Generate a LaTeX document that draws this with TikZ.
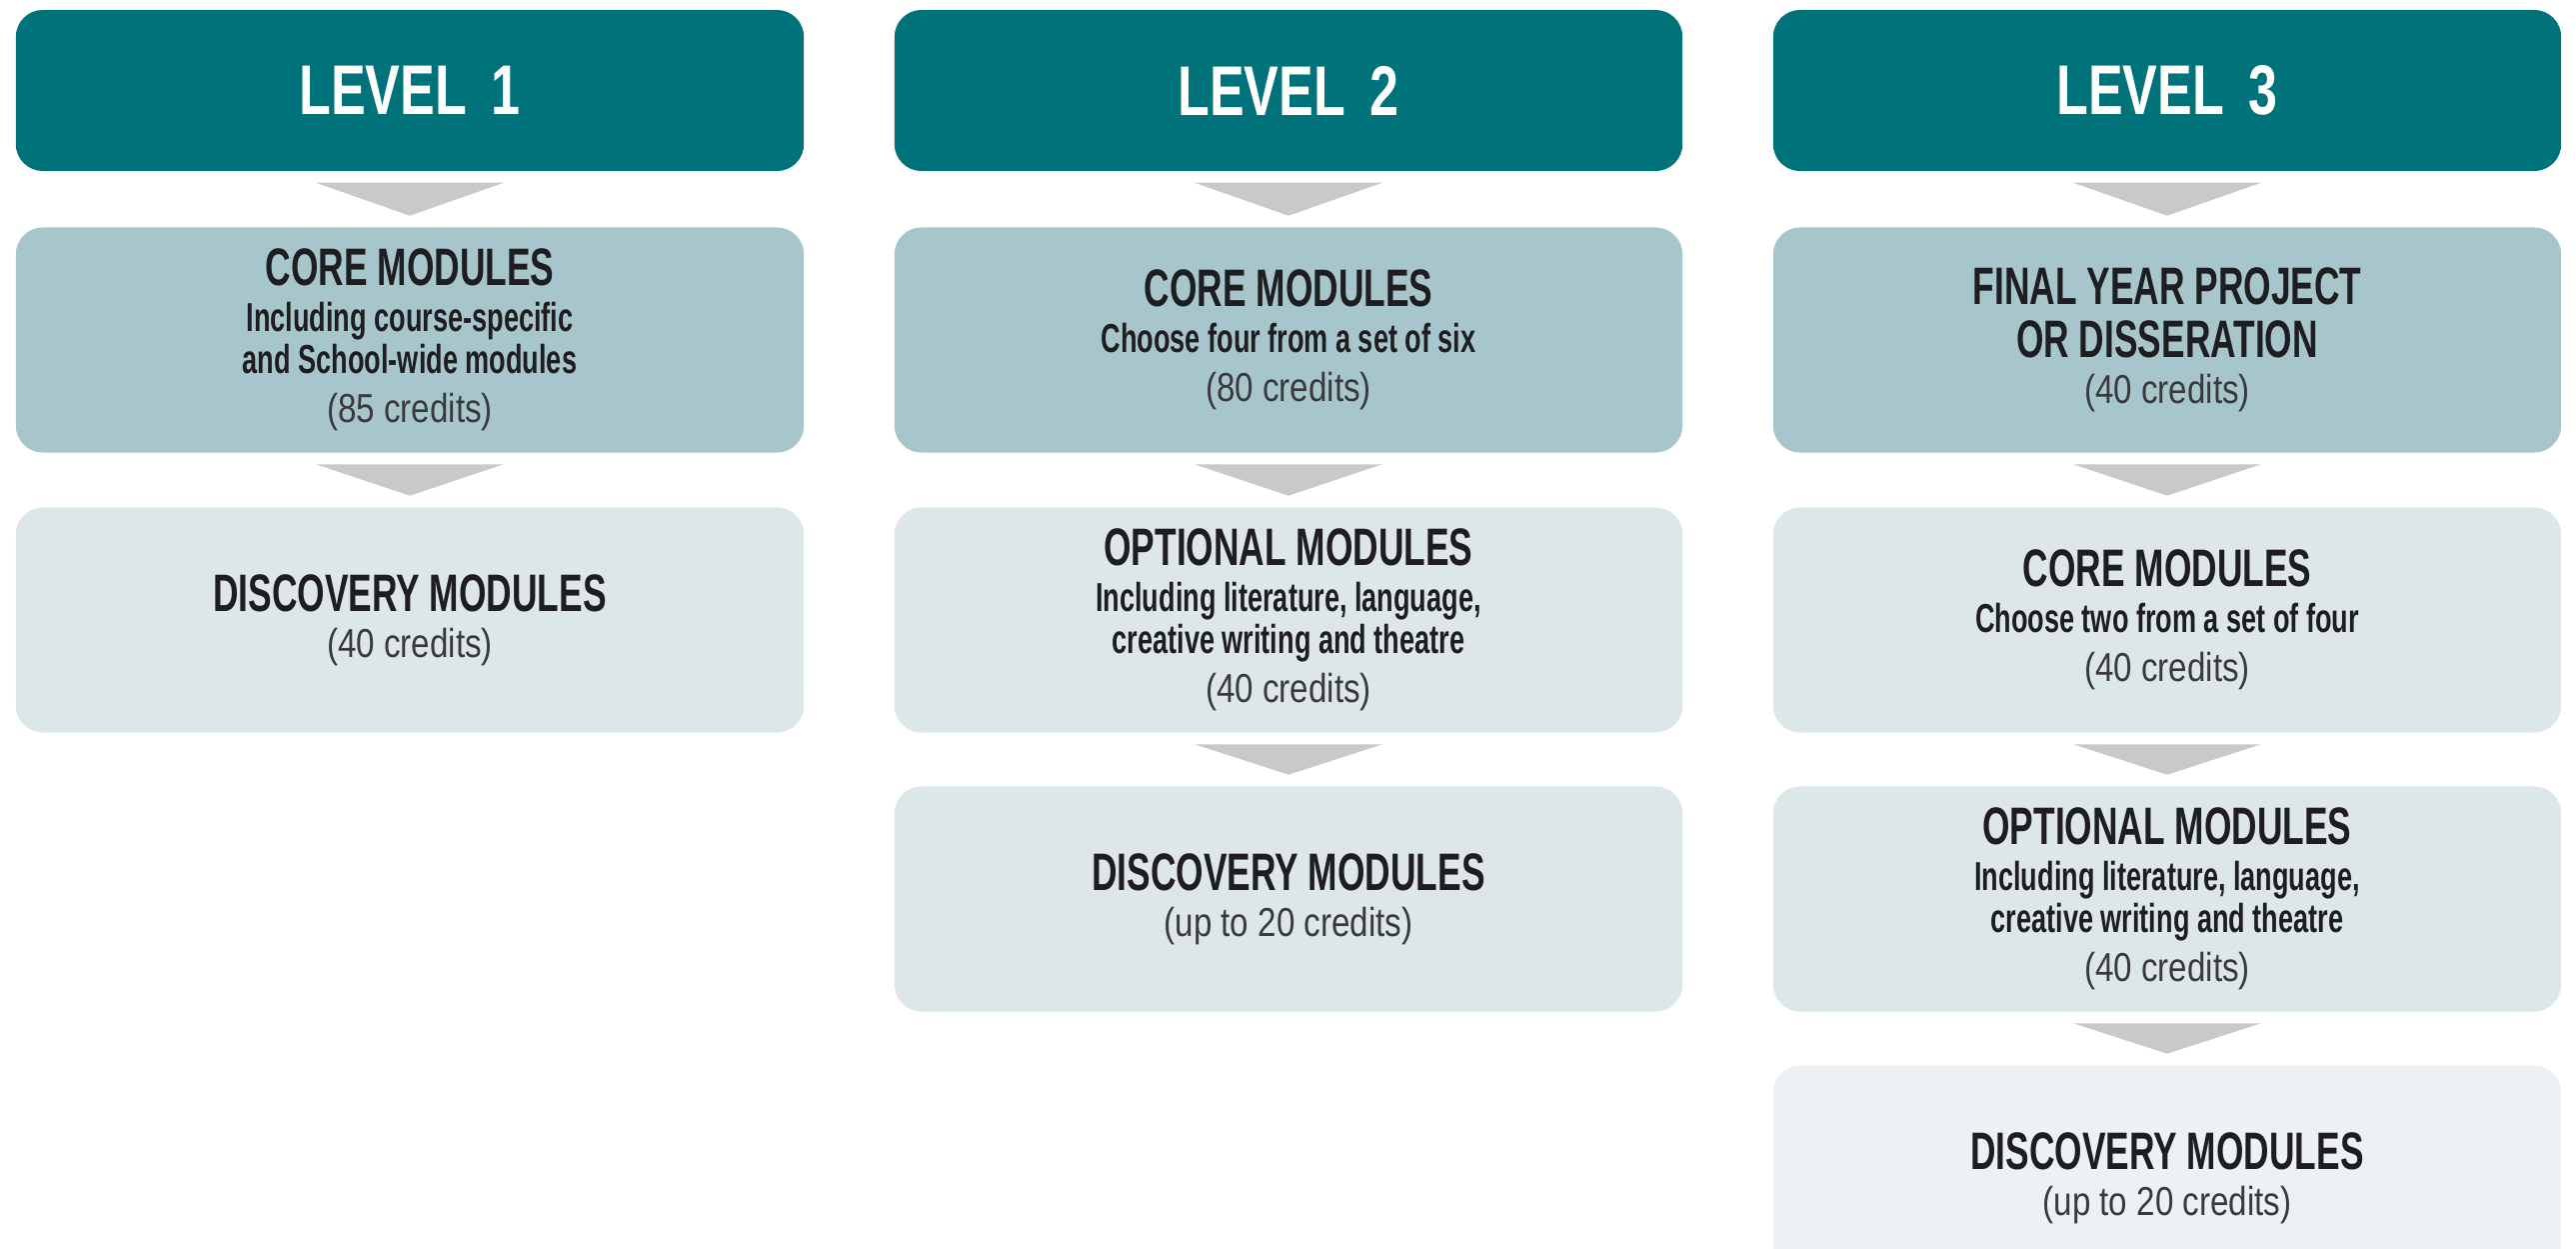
\documentclass[tikz,border=0pt]{standalone}
\usepackage{fontspec}
\setmainfont{Liberation Sans}
\newfontfamily\cond[FakeStretch=0.67]{Liberation Sans}
\newfontfamily\headfont[FakeStretch=0.74]{Liberation Sans}
\newfontfamily\credfont[FakeStretch=0.82]{Liberation Sans}

\definecolor{lvlteal}{HTML}{00737A}
\definecolor{coreblue}{HTML}{A7C6CB}
\definecolor{lightblue}{HTML}{DDE7EA}
\definecolor{palestblue}{HTML}{ECF2F3}
\definecolor{chevgray}{HTML}{C9C9CA}
\definecolor{inkdark}{HTML}{1E1E22}
\definecolor{credgray}{HTML}{3A3A3E}

% text of the boxes (set again on every line)
\newcommand{\modttl}{\cond\bfseries\fontsize{15}{16}\selectfont}
\newcommand{\modsub}{\cond\bfseries\fontsize{11.5}{13}\selectfont}
\newcommand{\modcred}{\credfont\mdseries\color{credgray}\fontsize{11.5}{14}\selectfont}

% chevron between two stacked boxes
\newcommand{\chevron}[2]{%
  \fill[chev] (#1.south) ++(-94,11) -- ++(188,0) -- ([yshift=0.11cm]#2.north) -- cycle;}

\tikzset{
  levelbox/.style={fill=lvlteal,rounded corners=0.27cm,minimum width=7.88cm,
    minimum height=1.61cm,inner sep=0pt,text=white,
    font=\headfont\bfseries\fontsize{20}{24}\selectfont},
  modbox/.style={rounded corners=0.27cm,minimum width=7.88cm,minimum height=2.25cm,
    inner sep=0pt,align=center,text=inkdark},
  chev/.style={fill=chevgray},
}

\begin{document}
\begin{tikzpicture}[x=0.01cm,y=-0.01cm]

  % page: 2577 x 1249 units, y runs downwards
  \path[use as bounding box,clip] (0,0) rectangle (2577,1249);

  % column centres and row centres
  \def\xA{410}  \def\xB{1289}  \def\xC{2168}
  \def\yHead{90.5}
  \def\yRa{340} \def\yRb{620}  \def\yRc{899} \def\yRd{1178}

  %==========================
  % Level headers
  %==========================
  \node[levelbox] (lvA) at (\xA,\yHead) {LEVEL\hspace{0.35em}1};
  \node[levelbox] (lvB) at (\xB,\yHead) {LEVEL\hspace{0.35em}2};
  \node[levelbox] (lvC) at (\xC,\yHead) {LEVEL\hspace{0.35em}3};

  %==========================
  % Level 1
  %==========================
  \node[modbox,fill=coreblue] (coreA) at (\xA,\yRa)
    {\modttl CORE MODULES\\[1pt] \modsub Including course-specific\\ \modsub and School-wide modules\\[2pt] \modcred (85 credits)};
  \node[modbox,fill=lightblue] (discA) at (\xA,\yRb)
    {\modttl DISCOVERY MODULES\\[1pt] \modcred (40 credits)};

  %==========================
  % Level 2
  %==========================
  \node[modbox,fill=coreblue] (coreB) at (\xB,\yRa)
    {\modttl CORE MODULES\\[1pt] \modsub Choose four from a set of six\\[2pt] \modcred (80 credits)};
  \node[modbox,fill=lightblue] (optB) at (\xB,\yRb)
    {\modttl OPTIONAL MODULES\\[1pt] \modsub Including literature, language,\\ \modsub creative writing and theatre\\[2pt] \modcred (40 credits)};
  \node[modbox,fill=lightblue] (discB) at (\xB,\yRc)
    {\modttl DISCOVERY MODULES\\[1pt] \modcred (up to 20 credits)};

  %==========================
  % Level 3
  %==========================
  \node[modbox,fill=coreblue] (projC) at (\xC,\yRa)
    {\modttl FINAL YEAR PROJECT\\[3pt] \modttl OR DISSERATION\\[1pt] \modcred (40 credits)};
  \node[modbox,fill=lightblue] (coreC) at (\xC,\yRb)
    {\modttl CORE MODULES\\[1pt] \modsub Choose two from a set of four\\[2pt] \modcred (40 credits)};
  \node[modbox,fill=lightblue] (optC) at (\xC,\yRc)
    {\modttl OPTIONAL MODULES\\[1pt] \modsub Including literature, language,\\ \modsub creative writing and theatre\\[2pt] \modcred (40 credits)};
  \node[modbox,fill=palestblue] (discC) at (\xC,\yRd)
    {\modttl DISCOVERY MODULES\\[1pt] \modcred (up to 20 credits)};

  % chevrons
  \foreach \a/\b in {lvA/coreA,coreA/discA,
                     lvB/coreB,coreB/optB,optB/discB,
                     lvC/projC,projC/coreC,coreC/optC,optC/discC}
    \chevron{\a}{\b};

\end{tikzpicture}
\end{document}
